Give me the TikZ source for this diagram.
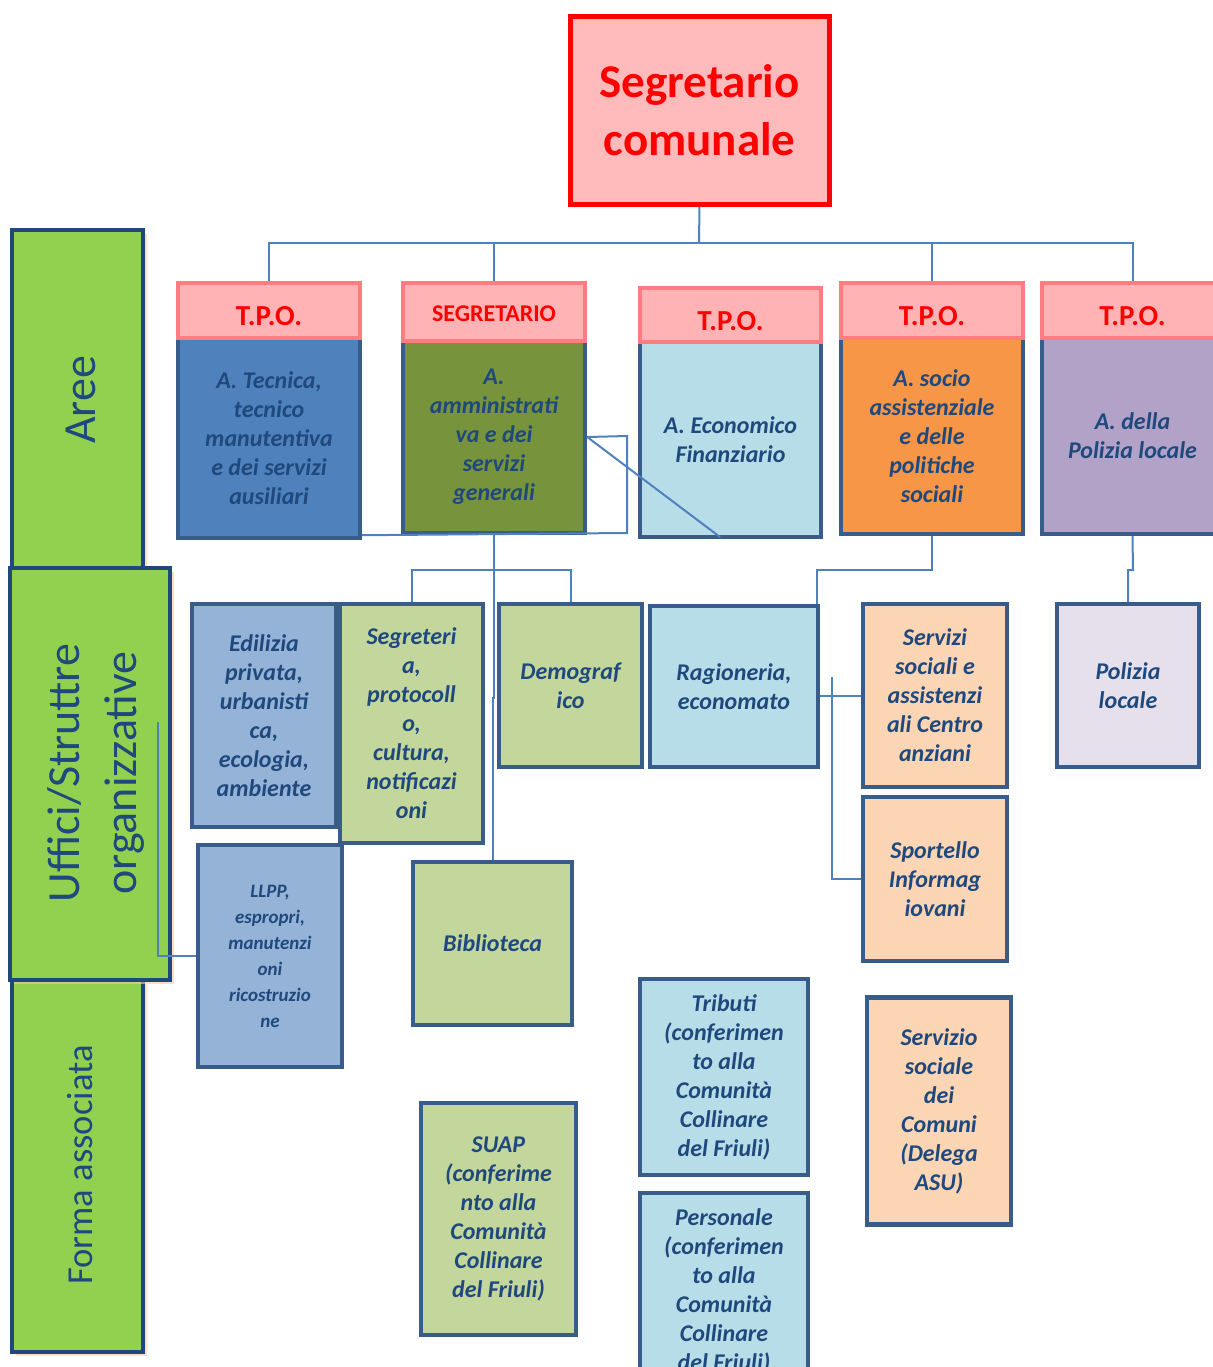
\documentclass[tikz,border=0pt]{standalone}
\usepackage{fontspec}
\setmainfont{Carlito}
\usetikzlibrary{shadows}
\definecolor{bordoblu}{RGB}{56,93,138}
\definecolor{testoblu}{RGB}{31,73,125}
\definecolor{linea}{RGB}{79,129,189}
\definecolor{rosa}{RGB}{255,179,181}
\definecolor{salmone}{RGB}{255,124,128}
\definecolor{rosatop}{RGB}{255,187,188}
\definecolor{verdeside}{RGB}{146,208,80}
\definecolor{ombra}{RGB}{250,200,160}
\definecolor{blutec}{RGB}{79,129,189}
\definecolor{oliva}{RGB}{119,147,60}
\definecolor{celeste}{RGB}{183,222,232}
\definecolor{arancio}{RGB}{247,150,70}
\definecolor{lilla}{RGB}{179,162,199}
\definecolor{azzurro}{RGB}{149,179,215}
\definecolor{verdino}{RGB}{195,214,155}
\definecolor{pesca}{RGB}{252,213,181}
\definecolor{lavanda}{RGB}{230,224,236}
\begin{document}
\begin{tikzpicture}[x=0.5pt,y=-0.5pt,
    segrbox/.style={draw=red,fill=rosatop,line width=2.5pt,text=red,align=center,
      font=\bfseries\fontsize{23.5}{29}\selectfont},
    tpo/.style={draw=salmone,fill=rosa,line width=2pt,text=red,
      font=\bfseries\fontsize{14.5}{17}\selectfont,text height=15pt,text depth=0pt},
    ufficio/.style={draw=bordoblu,line width=2.2pt,text=testoblu,align=center,
      font=\bfseries\itshape\fontsize{12}{14.5}\selectfont},
    fascia/.style={draw=testoblu,fill=verdeside,line width=2pt,
      drop shadow={shadow xshift=2pt,shadow yshift=-2pt,fill=ombra,opacity=.6}},
    fasciatesto/.style={text=testoblu,rotate=90,align=center},
    filo/.style={draw=linea,line width=1pt}]
    \useasboundingbox (0,0) rectangle (1213,1367);
    % fasce laterali
    \node[fascia,minimum width=65.5pt,minimum height=169pt] (aree) at (77.5,399) {};
    \node[fascia,minimum width=65.5pt,minimum height=186pt] (forma) at (77.5,1166) {};
    \node[fascia,minimum width=80pt,minimum height=206pt] (uffici) at (90,774) {};
    \node[fasciatesto,font=\fontsize{23}{24}\selectfont] (areeT) at (81,400) {Aree};
    \node[fasciatesto,font=\fontsize{23}{28.5}\selectfont] (ufficiT) at (96,773) {Uffici/Struttre\\organizzative};
    \node[fasciatesto,font=\fontsize{18.3}{20}\selectfont] (formaT) at (80,1165) {Forma associata};
    % vertice
    \node[segrbox,minimum width=129.5pt,minimum height=94pt] (segr) at (699.5,110) {Segretario\\comunale};
    % aree
    \node[ufficio,fill=blutec,minimum width=91pt,minimum height=100pt] (areaTec) at (269,438)
      {A. Tecnica,\\tecnico\\manutentiva\\e dei servizi\\ausiliari};
    \node[ufficio,fill=oliva,minimum width=91pt,minimum height=96pt] (areaAmm) at (494,437)
      {A.\\amministrati\\va e dei\\servizi\\generali};
    \node[ufficio,fill=celeste,minimum width=90.5pt,minimum height=97.5pt] (areaEco) at (730.5,439.5)
      {A. Economico\\Finanziario};
    \node[ufficio,fill=arancio,minimum width=91pt,minimum height=98pt] (areaSoc) at (932,436)
      {A. socio\\assistenziale\\e delle\\politiche\\sociali};
    \node[ufficio,fill=lilla,minimum width=90.5pt,minimum height=98pt] (areaPol) at (1132.5,436)
      {A. della\\Polizia locale};
    \node[tpo,minimum width=91pt,minimum height=27.5pt] (tpoA) at (269,310.5) {T.P.O.};
    \node[tpo,minimum width=91pt,minimum height=29pt,text height=9.2pt,
      font=\bfseries\fontsize{12}{14}\selectfont] (tpoB) at (494,312) {SEGRETARIO};
    \node[tpo,minimum width=90.5pt,minimum height=27pt] (tpoC) at (730.5,315) {T.P.O.};
    \node[tpo,minimum width=91pt,minimum height=27.5pt] (tpoD) at (932,310.5) {T.P.O.};
    \node[tpo,minimum width=90.5pt,minimum height=27.5pt] (tpoE) at (1132.5,310.5) {T.P.O.};
    % uffici
    \node[ufficio,fill=azzurro,minimum width=72pt,minimum height=111.5pt] (edil) at (264,715.5)
      {Edilizia\\privata,\\urbanisti\\ca,\\ecologia,\\ambiente};
    \node[ufficio,fill=verdino,minimum width=71.5pt,minimum height=119.5pt] (segrt) at (411.5,723.5)
      {Segreteri\\a,\\protocoll\\o,\\cultura,\\notificazi\\oni};
    \node[ufficio,fill=verdino,minimum width=71.5pt,minimum height=81.5pt] (demo) at (570.5,685.5)
      {Demograf\\ico};
    \node[ufficio,fill=celeste,minimum width=84pt,minimum height=80.5pt] (ragi) at (734,686.5)
      {Ragioneria,\\economato};
    \node[ufficio,fill=pesca,minimum width=72pt,minimum height=91.5pt] (servsoc) at (935,695.5)
      {Servizi\\sociali e\\assistenzi\\ali Centro\\anziani};
    \node[ufficio,fill=pesca,minimum width=72pt,minimum height=82pt] (sport) at (935,879)
      {Sportello\\Informag\\iovani};
    \node[ufficio,fill=lavanda,minimum width=71pt,minimum height=81.5pt] (pol) at (1128,685.5)
      {Polizia\\locale};
    \node[ufficio,fill=azzurro,minimum width=72pt,minimum height=111pt,
      font=\bfseries\itshape\fontsize{9.5}{13}\selectfont] (llpp) at (270,956)
      {LLPP,\\espropri,\\manutenzi\\oni\\ricostruzio\\ne};
    \node[ufficio,fill=verdino,minimum width=79.5pt,minimum height=81.5pt] (bibl) at (492.5,943.5)
      {Biblioteca};
    % forma associata
    \node[ufficio,fill=celeste,minimum width=84pt,minimum height=98pt] (trib) at (724,1077)
      {Tributi\\(conferimen\\to alla\\Comunità\\Collinare\\del Friuli)};
    \node[ufficio,fill=celeste,minimum width=84pt,minimum height=98pt] (pers) at (724,1291)
      {Personale\\(conferimen\\to alla\\Comunità\\Collinare\\del Friuli)};
    \node[ufficio,fill=pesca,minimum width=72pt,minimum height=113.5pt] (ssc) at (939,1111)
      {Servizio\\sociale\\dei\\Comuni\\(Delega\\ASU)};
    \node[ufficio,fill=verdino,minimum width=77.5pt,minimum height=116pt] (suap) at (498.5,1219)
      {SUAP\\(conferime\\nto alla\\Comunità\\Collinare\\del Friuli)};
    % collegamenti
    \coordinate (bus) at (699,243);
    \draw[filo] (segr.south) -- (bus);
    \foreach \t in {tpoA,tpoB,tpoD,tpoE}{
      \draw[filo] (bus) -| (\t.north);
    }
    \draw[filo] (areaTec.east |- areaAmm.south) -- (627,533) -- (627,436) -- (areaAmm.east);
    \coordinate (diagFine) at (720,537);
    \draw[filo] (areaAmm.east) -- (diagFine);
    \coordinate (snodoAmm) at (494,570);
    \draw[filo] (areaAmm.south) -- (snodoAmm);
    \draw[filo] (snodoAmm) -| (segrt.north);
    \draw[filo] (snodoAmm) -| (demo.north);
    \draw[filo] (snodoAmm) -- (494,698) -- (bibl.north |- 0,698) -- (bibl.north);
    \draw[filo] (areaSoc.south) -- (932,570) -- (817,570) -- (ragi.north -| 817,0);
    \draw[filo] (ragi.east |- servsoc.west) -- (servsoc.west);
    \coordinate (ramoSport) at (832,677);
    \draw[filo] (ramoSport) |- (sport.west);
    \draw[filo] (areaPol.south) -- (1133,570) -- (1128,570) -- (pol.north);
    \coordinate (ramoLlpp) at (158,722);
    \draw[filo] (ramoLlpp) |- (llpp.west);
  \end{tikzpicture}
\end{document}
